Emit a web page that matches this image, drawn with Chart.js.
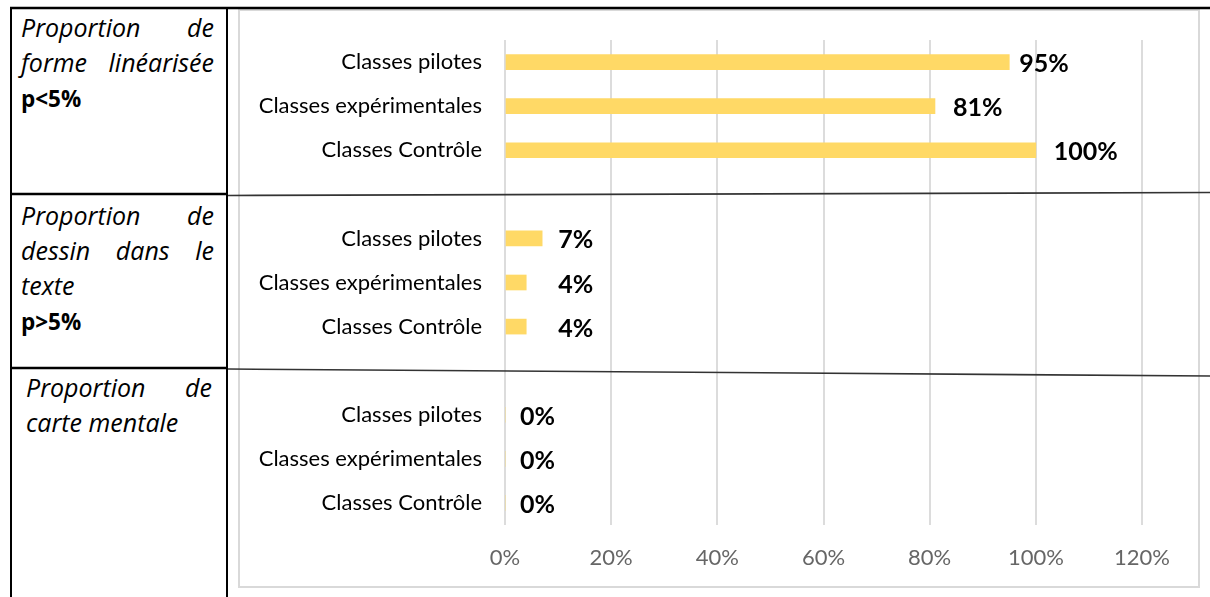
<!DOCTYPE html>
<html>
<head>
<meta charset="utf-8">
<script src="https://cdn.jsdelivr.net/npm/chart.js@4"></script>
<style>
  body { margin: 0; background: #fff; font-family: "Open Sans", sans-serif; }
  .page { position: relative; width: 1210px; height: 597px; overflow: hidden; }
  .cell { position: absolute; left: 21px; width: 193px; font-size: 25px; line-height: 35px; color: #000; }
  .cell .l { display: flex; justify-content: space-between; font-style: italic; white-space: nowrap; }
  .cell .r { font-style: italic; white-space: nowrap; }
  .cell b { font-weight: 700; font-size: 22.5px; }
  .frame { position: absolute; left: 238px; top: 9px; width: 962px; height: 579px; border: 2px solid #d9d9d9; box-sizing: border-box; }
  .frame div { position: relative; width: 100%; height: 100%; }
  svg { position: absolute; left: 0; top: 0; pointer-events: none; }
</style>
</head>
<body>
<div class="page">
  <!-- colonne de gauche -->
  <div class="cell" style="top:10px">
    <div class="l"><span>Proportion</span><span>de</span></div>
    <div class="l"><span>forme</span><span>linéarisée</span></div>
    <div><b>p&lt;5%</b></div>
  </div>
  <div class="cell" style="top:198px">
    <div class="l"><span>Proportion</span><span>de</span></div>
    <div class="l"><span>dessin</span><span>dans</span><span>le</span></div>
    <div class="r">texte</div>
    <div><b>p&gt;5%</b></div>
  </div>
  <div class="cell" style="top:370px; left:26px; width:186px">
    <div class="l"><span>Proportion</span><span>de</span></div>
    <div class="r">carte mentale</div>
  </div>

  <div class="frame"><div><canvas id="chart"></canvas></div></div>

  <svg width="1210" height="597">
    <g stroke="#000">
      <line x1="10" y1="8" x2="1210" y2="8" stroke-width="2.5"/>
      <line x1="11" y1="7" x2="11" y2="597" stroke-width="2"/>
      <line x1="227" y1="7" x2="227" y2="597" stroke-width="2"/>
      <line x1="10" y1="194" x2="228" y2="194" stroke-width="2.5"/>
      <line x1="10" y1="368" x2="228" y2="368" stroke-width="2.5"/>
    </g>
    <g stroke="#333" stroke-width="1.6">
      <line x1="228" y1="195.5" x2="1210" y2="192.5"/>
      <line x1="228" y1="369" x2="1210" y2="376"/>
    </g>
  </svg>
</div>

<script>
// catégories (les '' sont les lignes vides entre les groupes)
const categories = [
  'Classes pilotes', 'Classes expérimentales', 'Classes Contrôle', '',
  'Classes pilotes', 'Classes expérimentales', 'Classes Contrôle', '',
  'Classes pilotes', 'Classes expérimentales', 'Classes Contrôle'
];
const values = [95, 81, 100, null, 7, 4, 4, null, 0, 0, 0];
const xTicks = [0, 20, 40, 60, 80, 100, 120];

// étiquettes de données en gras à droite des barres
const dataLabels = {
  id: 'dataLabels',
  afterDatasetsDraw(chart, args, opts) {
    const ctx = chart.ctx;
    const meta = chart.getDatasetMeta(0);
    ctx.save();
    ctx.font = 'bold 25px Lato';
    ctx.fillStyle = '#000';
    ctx.textAlign = 'left';
    ctx.textBaseline = 'middle';
    meta.data.forEach((bar, i) => {
      const v = values[i];
      if (v === null) return;
      ctx.fillText(v + '%', bar.x + opts.gap[i], bar.y + 2);
    });
    ctx.restore();
  }
};

new Chart(document.getElementById('chart'), {
  type: 'bar',
  data: {
    labels: categories,
    datasets: [{
      data: values,
      backgroundColor: '#FFD966',
      barThickness: 15
    }]
  },
  options: {
    indexAxis: 'y',
    responsive: true,
    maintainAspectRatio: false,
    animation: false,
    layout: { padding: { top: 29, right: 56, left: 0, bottom: 0 } },
    scales: {
      x: {
        min: xTicks[0],
        max: xTicks[xTicks.length - 1],
        afterBuildTicks: scale => { scale.ticks = xTicks.map(v => ({ value: v })); },
        afterFit: scale => { scale.height = 61; },
        grid: { color: '#dcdcdc', lineWidth: 2, drawTicks: false },
        border: { display: false },
        ticks: {
          padding: 20,
          color: '#666',
          font: { family: 'Lato', size: 22 },
          callback: v => v + '%'
        }
      },
      y: {
        afterFit: scale => {
          scale.width = 265;
          scale.paddingTop = 0;
          scale.paddingBottom = 0;
        },
        grid: { display: false, drawTicks: false },
        border: { display: false },
        ticks: {
          padding: 23,
          color: '#000',
          font: { family: 'Lato', size: 22 }
        }
      }
    },
    plugins: {
      legend: { display: false },
      tooltip: { enabled: false },
      dataLabels: { gap: [10, 18, 18, 0, 16, 32, 32, 0, 15, 15, 15] }
    }
  },
  plugins: [dataLabels]
});
</script>
</body>
</html>
